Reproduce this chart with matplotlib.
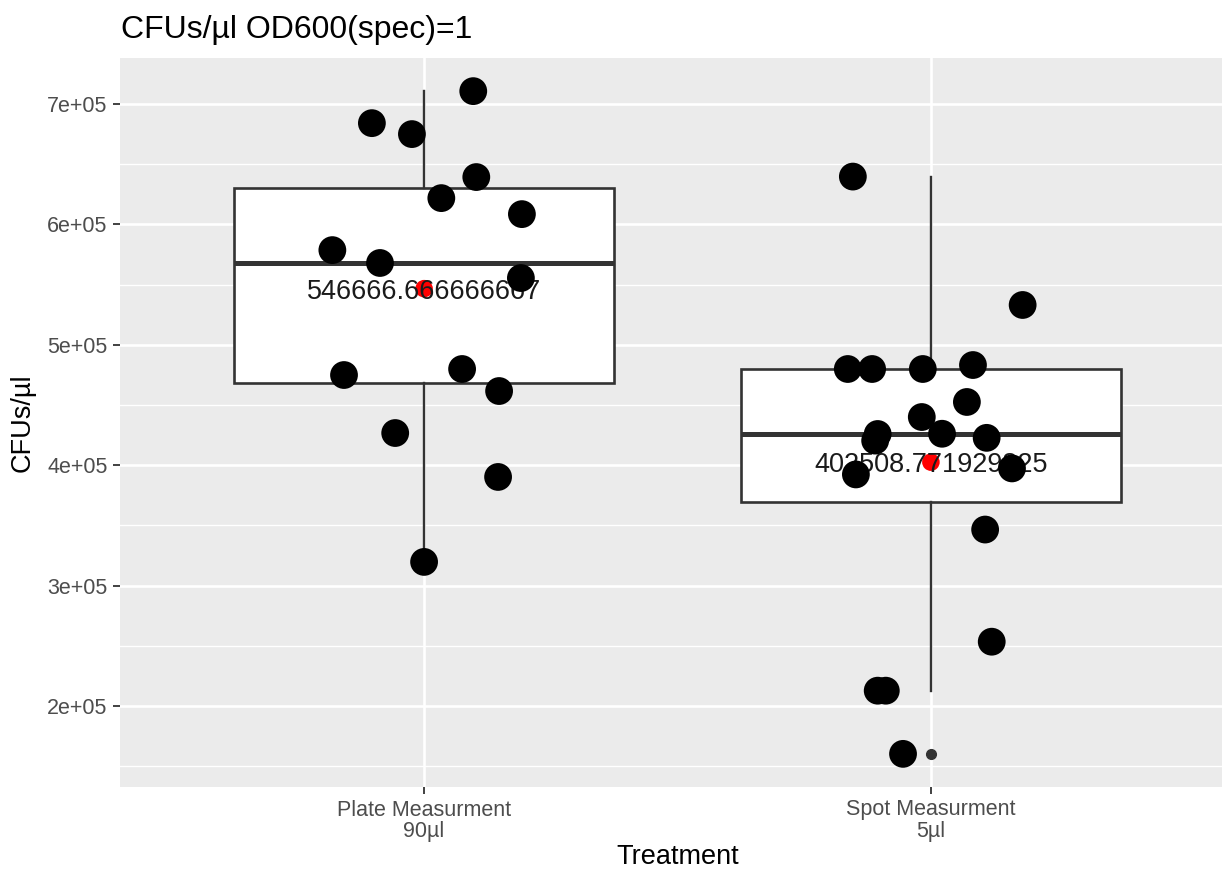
import matplotlib
matplotlib.use("Agg")
import matplotlib.pyplot as plt
import numpy as np

plt.rcParams['font.family'] = ['Liberation Sans', 'DejaVu Sans']

# ---- data ----
categories = ["Plate Measurment\n90µl", "Spot Measurment\n5µl"]
plate = [710800, 684200, 675100, 639400, 621900, 608600, 578700, 568000,
         555500, 474900, 479900, 461600, 426700, 390200, 319600]
plate_jit = [0.097, -0.103, -0.024, 0.103, 0.034, 0.193, -0.181, -0.087,
             0.191, -0.158, 0.075, 0.148, -0.057, 0.146, 0.0]
spot = [639800, 533100, 479900, 479900, 479900, 483200, 452500, 440000,
        425900, 420400, 426100, 422700, 392300, 397300, 346500, 253300,
        212600, 212600, 160100]
spot_jit = [-0.154, 0.181, -0.164, -0.116, -0.016, 0.083, 0.071, -0.018,
            -0.105, -0.110, 0.022, 0.110, -0.148, 0.160, 0.107, 0.120,
            -0.105, -0.089, -0.055]
means = [546666.666666667, 402508.771929825]
mean_labels = ["546666.666666667", "402508.771929825"]
yticks = [200000, 300000, 400000, 500000, 600000, 700000]
ytick_labels = ["2e+05", "3e+05", "4e+05", "5e+05", "6e+05", "7e+05"]
minor_ticks = [150000, 250000, 350000, 450000, 550000, 650000, 750000]

W, H = 1222, 873
fig = plt.figure(figsize=(W / 100, H / 100), dpi=100)
ax = fig.add_axes([120 / W, (H - 787) / H, 1115 / W, (787 - 58) / H])
ax.set_facecolor('#EBEBEB')
for s in ax.spines.values():
    s.set_visible(False)

groups = [plate, spot]
jits = [plate_jit, spot_jit]
positions = [1, 2]

# grid
ax.set_axisbelow(True)
for m in minor_ticks:
    ax.axhline(m, color='white', lw=0.95, zorder=0)
for t in yticks:
    ax.axhline(t, color='white', lw=1.9, zorder=0)
for p in positions:
    ax.axvline(p, color='white', lw=1.9, zorder=0)

edge = '#333333'
ax.boxplot(groups, positions=positions, widths=0.75, whis=1.5,
           patch_artist=True, manage_ticks=False,
           boxprops=dict(facecolor='white', edgecolor=edge, linewidth=1.9),
           medianprops=dict(color=edge, linewidth=3.6),
           whiskerprops=dict(color=edge, linewidth=1.7),
           capprops=dict(linewidth=0),
           flierprops=dict(marker='o', markerfacecolor=edge, markeredgecolor=edge,
                           markersize=7),
           zorder=2)

# mean points and labels
ax.scatter(positions, means, s=160, color='#FF0000', edgecolors='none', zorder=3)
for p, m, lab in zip(positions, means, mean_labels):
    ax.text(p, m, lab, ha='center', va='center_baseline', fontsize=19.5,
            color='#1A1A1A', zorder=4)

# jittered points
for p, g, j in zip(positions, groups, jits):
    ax.scatter(np.array(j) + p, g, s=400, color='black', edgecolors='none', zorder=5)

allv = np.concatenate([plate, spot])
rng = allv.max() - allv.min()
ax.set_ylim(allv.min() - 0.05 * rng, allv.max() + 0.05 * rng)
ax.set_xlim(0.4, 2.6)

ax.set_yticks(yticks)
ax.set_yticklabels(ytick_labels)
ax.set_xticks(positions)
ax.set_xticklabels(categories, linespacing=1.0)
ax.tick_params(axis='both', colors='#333333', length=5, width=1.3,
               labelsize=15.5, labelcolor='#4D4D4D', pad=4)

ax.set_xlabel("Treatment", fontsize=19.5, color='black', labelpad=2)
ax.set_ylabel("CFUs/µl", fontsize=19.5, color='black', labelpad=8)

fig.text(121 / W, 1 - 30 / H, "CFUs/µl OD600(spec)=1", fontsize=23,
         color='black', ha='left', va='center')

fig.savefig("out.png", dpi=100)
